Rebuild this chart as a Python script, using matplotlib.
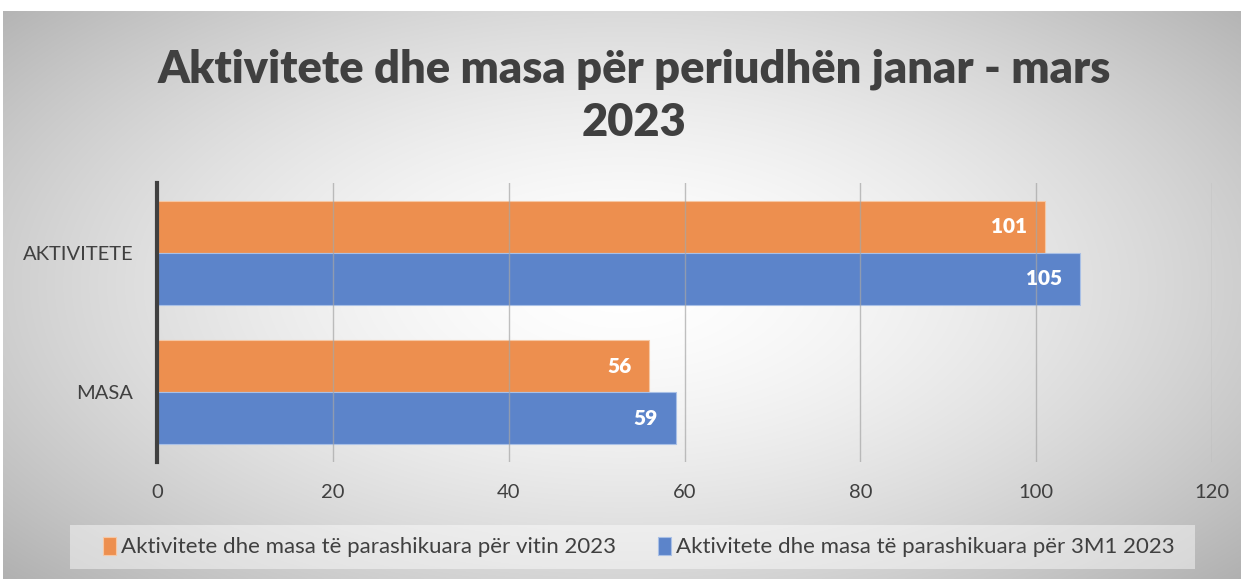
import numpy as np
import matplotlib
matplotlib.use("Agg")
import matplotlib.pyplot as plt
from matplotlib.patches import Rectangle

categories = ["MASA", "AKTIVITETE"]
series_names = ["Aktivitete dhe masa të parashikuara për vitin 2023",
                "Aktivitete dhe masa të parashikuara për 3M1 2023"]
values_year = [56, 101]
values_3m1 = [59, 105]
xticks = [0, 20, 40, 60, 80, 100, 120]
title = "Aktivitete dhe masa për periudhën janar - mars\n2023"

c_orange = "#ED8F4F"
c_blue = "#5C84CA"

plt.rcParams['font.family'] = ['Lato', 'DejaVu Sans']

W, H = 1244, 579
fig = plt.figure(figsize=(W / 100, H / 100), dpi=100)
fig.patch.set_facecolor("white")

# background radial gradient (chart area starts slightly below the top)
bg = fig.add_axes([3 / W, 0, (W - 6) / W, (H - 11) / H])
bg.set_axis_off()
ny, nx = 300, 600
yy, xx = np.mgrid[0:ny, 0:nx]
cx, cy = nx * 0.5, ny * 0.48
r = np.sqrt(((xx - cx) / (nx * 0.55)) ** 2 + ((yy - cy) / (ny * 0.62)) ** 2)
v = 1.0 - 0.22 * np.clip(r, 0, 1.25) ** 1.6
img = np.dstack([v, v, v])
bg.imshow(np.clip(img, 0, 1), aspect="auto", extent=[0, 1, 0, 1], interpolation="bilinear")
bg.set_xlim(0, 1)
bg.set_ylim(0, 1)

ax = fig.add_axes([157 / W, 1 - 462 / H, (1212 - 157) / W, (462 - 183) / H])
ax.patch.set_alpha(0)
y = np.arange(len(categories))
h = 0.372
b1 = ax.barh(y + h / 2, values_year, height=h, color=c_orange, edgecolor="#F6C7A4", linewidth=0.8, zorder=3)
b2 = ax.barh(y - h / 2, values_3m1, height=h, color=c_blue, edgecolor="#A9C0E6", linewidth=0.8, zorder=3)

for bars, vals in ((b1, values_year), (b2, values_3m1)):
    for rect, val in zip(bars, vals):
        ax.text(rect.get_width() - 2.0, rect.get_y() + rect.get_height() / 2, str(val),
                ha="right", va="center", color="white", fontsize=15, fontweight="heavy", zorder=5)

ax.set_xlim(0, 120)
ax.set_ylim(-0.5, 1.5)
ax.set_xticks(xticks)
ax.set_yticks(y)
ax.set_yticklabels(categories)
ax.tick_params(axis="both", length=0, labelsize=14.5, colors="#404040")
ax.tick_params(axis="x", pad=16)
ax.tick_params(axis="y", pad=17)
for xv in xticks[1:]:
    ax.axvline(xv, color="#A6A6A6", linewidth=1.0, zorder=4, alpha=0.7)
for s in ["top", "right", "bottom"]:
    ax.spines[s].set_visible(False)
ax.spines["left"].set_color("#404040")
ax.spines["left"].set_linewidth(3)
ax.spines["left"].set_zorder(6)

fig.text(634 / W, 1 - 96 / H, title, ha="center", va="center", fontsize=32.5,
         fontweight="heavy", color="#404040", linespacing=1.35)

# legend box
box = Rectangle((70 / W, 1 - 569 / H), (1195 - 70) / W, (569 - 525) / H,
                transform=fig.transFigure, facecolor="white", alpha=0.45, edgecolor="none", zorder=1)
fig.patches.append(box)
leg = fig.legend([b1, b2], series_names, loc="center", bbox_to_anchor=(639 / W, 1 - 547 / H),
                 ncol=2, frameon=False, fontsize=16, handlelength=0.55, handleheight=0.9,
                 handletextpad=0.25, columnspacing=1.9, labelcolor="#404040")

fig.savefig("out.png", dpi=100)
